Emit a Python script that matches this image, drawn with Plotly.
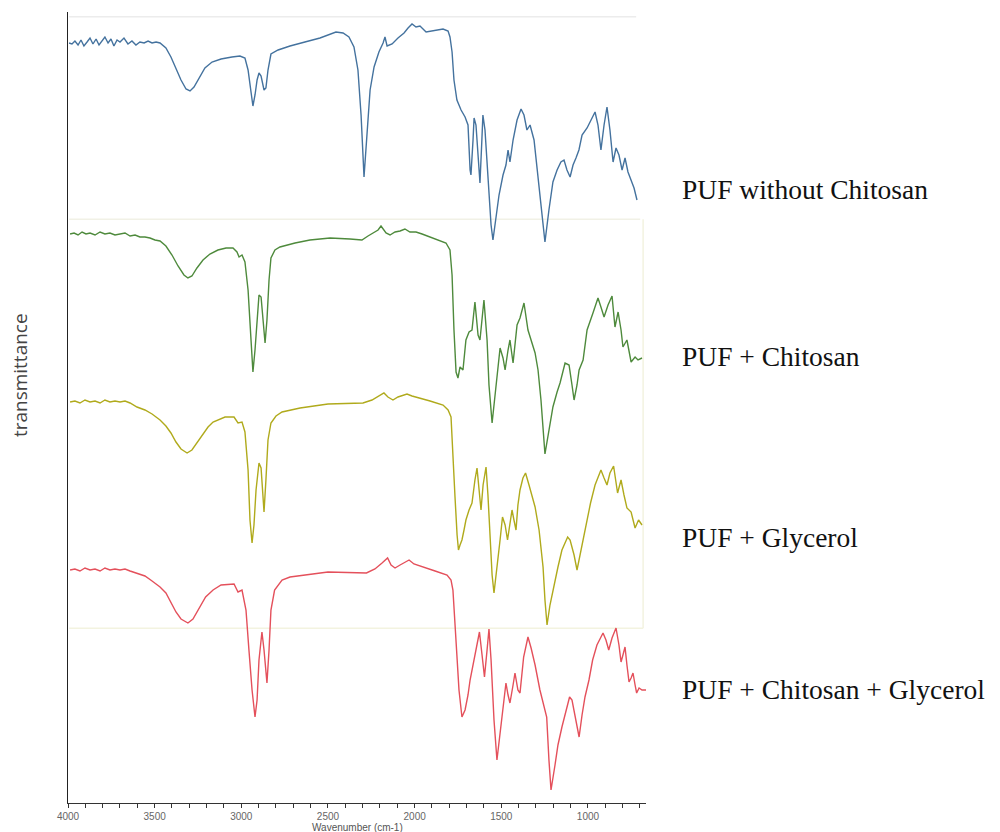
import plotly.graph_objects as go

# ---- x ticks ----
tick_vals = [4000, 3500, 3000, 2500, 2000, 1500, 1000]
tick_text = ["4000", "3500", "3000", "2500", "2000", "1500", "1000"]

series_names = ["PUF without Chitosan", "PUF + Chitosan", "PUF + Glycerol",
                "PUF + Chitosan + Glycerol"]

# ---- PUF without Chitosan (blue) ----
wn_blue = [3994, 3977, 3960, 3942, 3925, 3908, 3890, 3873, 3856, 3838,
           3821, 3804, 3787, 3769, 3752, 3735, 3717, 3700, 3677, 3654,
           3631, 3608, 3585, 3561, 3538, 3515, 3492, 3469,
           3435, 3406, 3377, 3348, 3319, 3296, 3273, 3244, 3210, 3169,
           3117, 3054, 3008, 2979, 2961, 2944, 2933, 2921, 2909, 2898,
           2886, 2869, 2858, 2846, 2829, 2788, 2719, 2633, 2546, 2454,
           2413, 2379, 2350, 2327, 2309, 2292, 2275, 2257, 2234, 2206,
           2182, 2171, 2159, 2130, 2096, 2061, 2038, 2015, 1992, 1969,
           1934, 1900, 1865, 1836, 1807, 1796, 1784, 1773, 1756, 1732,
           1709, 1692, 1680, 1675, 1663, 1657, 1646, 1634, 1623, 1612,
           1606, 1594, 1577, 1559, 1548, 1530, 1513, 1490, 1473, 1461,
           1450, 1432, 1409, 1386, 1369, 1352, 1334, 1311, 1288, 1265,
           1248, 1225, 1202, 1178, 1156, 1138, 1121, 1103, 1086, 1069,
           1052, 1034, 1005, 982, 959, 942, 925, 907, 890, 873,
           855, 838, 821, 803, 786, 769, 751, 734, 717]
t_blue = [76.0, 75.9, 76.2, 75.8, 76.3, 75.7, 76.1, 76.5, 75.9, 76.4,
          75.8, 76.2, 76.6, 76.0, 76.4, 75.7, 76.3, 76.1, 76.5, 75.9,
          76.2, 75.8, 76.1, 76.0, 76.2, 76.0, 76.1, 76.0,
          75.5, 74.6, 73.5, 72.3, 71.4, 71.2, 71.6, 72.5, 73.5, 74.1,
          74.4, 74.6, 74.7, 74.5, 73.3, 71.1, 69.7, 70.8, 72.3, 73.0,
          72.7, 71.3, 71.5, 73.3, 74.9, 75.3, 75.7, 76.1, 76.5, 77.1,
          77.0, 76.6, 75.6, 73.3, 68.8, 62.6, 67.3, 71.3, 73.6, 75.1,
          76.0, 76.6, 75.7, 75.9, 76.5, 77.0, 77.5, 77.9, 77.6, 77.7,
          77.1, 77.2, 77.3, 77.4, 77.2, 76.6, 75.1, 72.3, 70.3, 69.3,
          68.6, 67.8, 63.3, 62.8, 66.3, 68.5, 67.8, 64.3, 62.0, 66.3,
          68.8, 67.3, 62.3, 57.8, 56.3, 58.8, 60.8, 62.8, 63.8, 65.3,
          64.1, 66.3, 68.3, 69.4, 68.8, 67.3, 67.8, 66.3, 62.8, 58.8,
          56.1, 59.3, 62.1, 63.3, 64.1, 64.3, 63.3, 62.6, 63.8, 64.5,
          65.3, 66.8, 67.5, 68.3, 69.1, 67.8, 65.3, 67.8, 69.6, 67.3,
          64.1, 65.5, 64.8, 63.3, 64.5, 63.1, 62.3, 61.5, 60.3]

# ---- PUF + Chitosan (green) ----
wn_green = [3988, 3965, 3942, 3919, 3896, 3873, 3844, 3815, 3787, 3758,
            3729, 3700, 3671, 3642, 3613, 3585, 3556, 3527, 3498, 3469,
            3435, 3400, 3365, 3331, 3308, 3285, 3256, 3221, 3181, 3135,
            3088, 3048, 3025, 3013, 2996, 2979, 2961, 2944, 2933, 2921,
            2909, 2898, 2886, 2875, 2863, 2852, 2840, 2829, 2806, 2777,
            2690, 2604, 2488, 2373, 2304, 2269, 2234, 2211, 2194, 2182,
            2165, 2142, 2113, 2084, 2056, 2027, 1992, 1957, 1911, 1854,
            1819, 1796, 1784, 1773, 1761, 1750, 1738, 1721, 1704, 1686,
            1669, 1652, 1634, 1623, 1611, 1600, 1582, 1571, 1553, 1536,
            1519, 1507, 1490, 1478, 1461, 1450, 1432, 1421, 1409, 1392,
            1369, 1346, 1328, 1305, 1288, 1271, 1248, 1225, 1202, 1178,
            1161, 1132, 1109, 1092, 1080, 1063, 1051, 1028, 1005, 971,
            942, 925, 907, 884, 861, 844, 826, 809, 798, 775,
            751, 728, 711, 688]
t_green = [56.9, 57.0, 56.8, 57.1, 56.9, 57.0, 56.8, 57.1, 56.9, 57.0,
           56.8, 56.9, 57.0, 56.7, 56.8, 56.6, 56.6, 56.5, 56.3, 56.2,
           55.7, 54.8, 53.7, 52.8, 52.5, 52.7, 53.5, 54.3, 54.9, 55.3,
           55.5, 55.5, 55.1, 54.6, 54.8, 54.1, 51.3, 46.3, 43.1, 45.3,
           48.8, 50.8, 50.6, 48.3, 46.0, 48.3, 52.3, 54.5, 55.3, 55.6,
           56.0, 56.3, 56.5, 56.4, 56.3, 56.7, 57.1, 57.3, 57.7, 57.4,
           57.0, 56.8, 57.1, 57.2, 57.4, 57.1, 57.1, 56.9, 56.6, 56.3,
           56.0, 55.3, 52.8, 47.3, 43.1, 42.5, 43.6, 43.3, 46.3, 47.1,
           47.3, 50.1, 46.8, 46.3, 48.5, 50.3, 46.3, 41.8, 38.0, 40.6,
           43.8, 45.5, 44.5, 43.3, 45.3, 46.3, 44.0, 45.8, 47.8, 48.5,
           50.0, 47.3, 46.3, 45.0, 43.3, 40.3, 34.9, 37.3, 39.6, 41.1,
           42.0, 44.0, 43.8, 41.8, 40.3, 41.8, 43.3, 44.3, 47.3, 49.0,
           50.5, 49.6, 48.6, 49.8, 50.7, 47.6, 49.1, 47.3, 45.6, 46.3,
           44.1, 44.6, 44.3, 44.5]

# ---- PUF + Glycerol (yellow) ----
wn_yellow = [3988, 3960, 3931, 3902, 3873, 3844, 3815, 3787, 3758, 3729,
             3700, 3671, 3642, 3602, 3556, 3515, 3469, 3435, 3406, 3377,
             3348, 3313, 3285, 3256, 3227, 3192, 3163, 3094, 3042, 3019,
             2996, 2979, 2961, 2950, 2938, 2927, 2915, 2898, 2886, 2875,
             2869, 2858, 2846, 2829, 2800, 2765, 2661, 2500, 2373, 2298,
             2246, 2211, 2177, 2154, 2125, 2096, 2067, 2044, 2015, 1969,
             1911, 1836, 1807, 1790, 1779, 1767, 1755, 1747, 1738, 1727,
             1715, 1704, 1686, 1669, 1652, 1640, 1628, 1617, 1605, 1588,
             1577, 1565, 1553, 1542, 1525, 1507, 1493, 1478, 1464, 1450,
             1438, 1427, 1415, 1404, 1392, 1375, 1360, 1340, 1323, 1305,
             1282, 1259, 1248, 1236, 1219, 1196, 1173, 1150, 1117, 1103,
             1080, 1063, 1046, 1028, 1005, 985, 959, 925, 907, 890,
             873, 852, 829, 809, 792, 775, 751, 728, 708, 688]
t_yellow = [40.1, 40.2, 40.0, 40.3, 40.1, 40.2, 40.0, 40.3, 40.1, 40.2,
            40.1, 40.2, 40.0, 39.6, 39.3, 38.9, 38.3, 37.7, 37.0, 36.1,
            35.4, 35.0, 35.3, 36.0, 36.8, 37.6, 38.1, 38.6, 38.6, 38.0,
            38.1, 37.1, 33.3, 28.3, 26.0, 27.8, 31.3, 34.0, 33.5, 30.3,
            29.1, 32.3, 36.3, 38.0, 38.7, 39.1, 39.5, 39.9, 40.0, 40.0,
            40.3, 40.7, 41.0, 40.6, 40.3, 40.6, 40.8, 40.9, 40.7, 40.5,
            40.2, 39.8, 39.3, 38.6, 35.3, 30.6, 26.8, 25.3, 25.8, 26.3,
            27.3, 28.3, 29.3, 30.0, 32.3, 33.5, 31.3, 29.3, 31.8, 33.6,
            30.8, 26.8, 22.8, 21.0, 23.3, 26.3, 28.6, 27.8, 26.3, 28.1,
            29.3, 28.3, 27.3, 29.8, 31.3, 32.5, 33.0, 31.8, 30.8, 29.6,
            27.3, 23.6, 20.3, 17.8, 19.8, 21.8, 23.6, 25.3, 26.6, 26.3,
            24.8, 23.3, 24.8, 26.6, 28.3, 30.0, 31.8, 33.3, 32.5, 31.8,
            33.0, 33.7, 31.0, 32.3, 30.8, 29.5, 29.1, 27.5, 28.3, 27.8]

# ---- PUF + Chitosan + Glycerol (red) ----
wn_red = [3988, 3960, 3931, 3902, 3873, 3844, 3815, 3787, 3758, 3729,
          3700, 3671, 3642, 3602, 3556, 3515, 3469, 3435, 3406, 3377,
          3348, 3308, 3279, 3250, 3206, 3163, 3117, 3042, 3019, 2996,
          2973, 2956, 2938, 2921, 2909, 2898, 2881, 2869, 2852, 2840,
          2829, 2808, 2765, 2719, 2500, 2278, 2229, 2188, 2156, 2136,
          2113, 2084, 2056, 2032, 2004, 1946, 1882, 1813, 1790, 1779,
          1767, 1758, 1744, 1727, 1709, 1692, 1680, 1657, 1640, 1626,
          1611, 1597, 1582, 1571, 1559, 1542, 1525, 1507, 1493, 1473,
          1461, 1450, 1432, 1421, 1404, 1392, 1371, 1346, 1328, 1305,
          1277, 1253, 1238, 1225, 1213, 1190, 1173, 1150, 1126, 1106,
          1092, 1069, 1051, 1034, 1017, 994, 973, 948, 913, 896,
          880, 861, 838, 821, 809, 798, 786, 775, 763, 751,
          740, 728, 719, 705, 688, 665]
t_red = [23.3, 23.4, 23.2, 23.5, 23.3, 23.4, 23.2, 23.5, 23.3, 23.4,
         23.3, 23.4, 23.2, 23.0, 22.7, 22.2, 21.6, 21.0, 20.0, 19.1,
         18.4, 18.0, 18.4, 19.3, 20.6, 21.3, 21.8, 21.9, 21.1, 21.3,
         19.3, 15.3, 11.3, 8.6, 10.3, 14.3, 17.1, 15.3, 12.0, 15.3,
         19.3, 21.3, 22.3, 22.6, 23.1, 23.0, 23.4, 24.0, 24.5, 23.8,
         23.5, 23.8, 24.1, 24.3, 23.9, 23.6, 23.2, 22.8, 22.3, 21.3,
         18.3, 15.3, 11.3, 8.6, 9.3, 10.8, 12.3, 14.3, 15.8, 17.1,
         14.8, 12.6, 15.3, 17.4, 14.3, 8.3, 4.3, 6.8, 9.0, 12.0,
         10.8, 10.0, 11.8, 13.0, 11.3, 11.0, 14.6, 16.6, 15.5, 13.8,
         11.3, 9.8, 8.6, 4.3, 1.3, 3.8, 5.8, 7.6, 9.3, 10.6,
         10.3, 8.3, 6.6, 8.8, 10.6, 12.3, 14.3, 15.8, 17.0, 16.3,
         15.3, 16.5, 17.5, 15.8, 14.1, 14.8, 15.6, 13.8, 12.1, 12.5,
         13.0, 11.8, 11.0, 11.5, 11.3, 11.3]

colors = ["#44729e", "#4e8a3c", "#b0aa1c", "#e4505b"]
all_wn = [wn_blue, wn_green, wn_yellow, wn_red]
all_t = [t_blue, t_green, t_yellow, t_red]

fig = go.Figure()
for name, wn, t, c in zip(series_names, all_wn, all_t, colors):
    fig.add_trace(go.Scatter(x=wn, y=t, mode="lines", name=name,
                             line=dict(color=c, width=1.4), showlegend=False))

# faint panel boxes (artefacts of the composite figure)
faint = [
    dict(x0=0.002, x1=0.983, y0=0.994, y1=0.994, c="#ececec"),
    dict(x0=0.002, x1=0.990, y0=0.738, y1=0.738, c="#f1f1e6"),
    dict(x0=0.002, x1=0.995, y0=0.221, y1=0.221, c="#f3f3e0"),
    dict(x0=0.995, x1=0.995, y0=0.221, y1=0.738, c="#f3f3e0"),
]
for f in faint:
    fig.add_shape(type="line", xref="paper", yref="paper",
                  x0=f["x0"], x1=f["x1"], y0=f["y0"], y1=f["y1"],
                  line=dict(color=f["c"], width=1.5), layer="below")

label_y = [0.775, 0.565, 0.336, 0.143]
for name, yy in zip(series_names, label_y):
    fig.add_annotation(text=name, xref="paper", yref="paper", x=1.0588, y=yy,
                       xanchor="left", yanchor="middle", showarrow=False,
                       font=dict(family="Liberation Serif, Times New Roman, serif",
                                 size=27.5, color="#111111"))

fig.add_annotation(text="Wavenumber (cm-1)", xref="paper", yref="paper",
                   x=0.5, y=-0.031, xanchor="center", yanchor="middle",
                   showarrow=False,
                   font=dict(family="Liberation Sans, Arial, sans-serif",
                             size=10, color="#555555"))
fig.add_annotation(text="transmittance", xref="paper", yref="paper",
                   x=-0.083, y=0.541, xanchor="center", yanchor="middle",
                   textangle=-90, showarrow=False,
                   font=dict(family="Open Sans, sans-serif", size=19,
                             color="#444444"))

# the page body adds an 8 px margin, so the figure is 8 px smaller
fig.update_layout(
    width=992, height=824,
    margin=dict(l=60, r=354, t=4, b=29, autoexpand=False),
    paper_bgcolor="white", plot_bgcolor="white",
    xaxis=dict(range=[4000, 665], tickvals=tick_vals, ticktext=tick_text,
               showline=True, linecolor="#333333", linewidth=1,
               ticks="outside", ticklen=4, tickcolor="#333333",
               minor=dict(dtick=100, tick0=4000, ticks="outside", ticklen=4,
                          tickcolor="#333333"),
               showgrid=False, zeroline=False,
               tickfont=dict(family="Liberation Sans, Arial, sans-serif",
                             size=10, color="#666666")),
    yaxis=dict(range=[0, 79.1], showline=True, linecolor="#222222",
               linewidth=1, ticks="", showticklabels=False, showgrid=False,
               zeroline=False),
)

fig.write_html("out.html")
